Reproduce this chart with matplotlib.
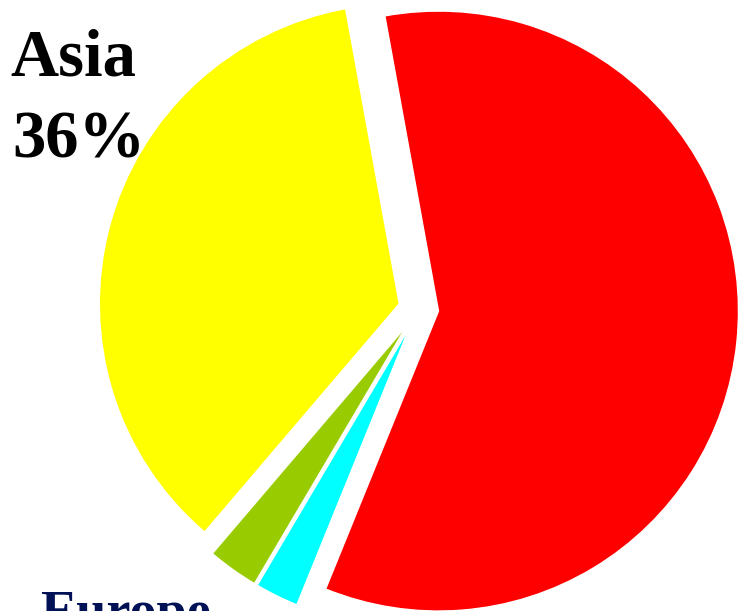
"""Exploded pie chart, region shares (cropped view, Asia 36%)."""

import matplotlib.pyplot as plt

# slice shares in %, counter-clockwise from the start angle
shares = [35.9, 2.75, 2.35, 59.0]
slice_colors = ["#FFFF00", "#99CC00", "#00FFFF", "#FF0000"]
asia_name = "Asia"
asia_pct = "36%"
europe_label = "Europe"


def main() -> None:
    fig = plt.figure(figsize=(7.38, 6.11), dpi=100)
    ax = fig.add_axes([0, 0, 1, 1])
    # axes in pixel units, y up
    ax.pie(shares, colors=slice_colors, startangle=100.3, counterclock=True,
           center=(418.6, 302.0), radius=300, explode=[20] * len(shares),
           wedgeprops=dict(edgecolor="white", linewidth=1.0))
    ax.set_xlim(0, 738)
    ax.set_ylim(0, 611)
    ax.set_aspect("auto")
    ax.axis("off")

    font = dict(family=["Liberation Serif", "DejaVu Serif"], fontweight="bold")
    ax.text(10, 536, asia_name, color="black", ha="left", va="baseline", fontsize=48, **font)
    ax.text(12, 454, asia_pct, color="black", ha="left", va="baseline", fontsize=48, **font)
    ax.text(40, -17, europe_label, color="#001155", ha="left", va="baseline", fontsize=39, **font)

    fig.savefig("out.png", dpi=100)
    plt.close(fig)


if __name__ == "__main__":
    main()
